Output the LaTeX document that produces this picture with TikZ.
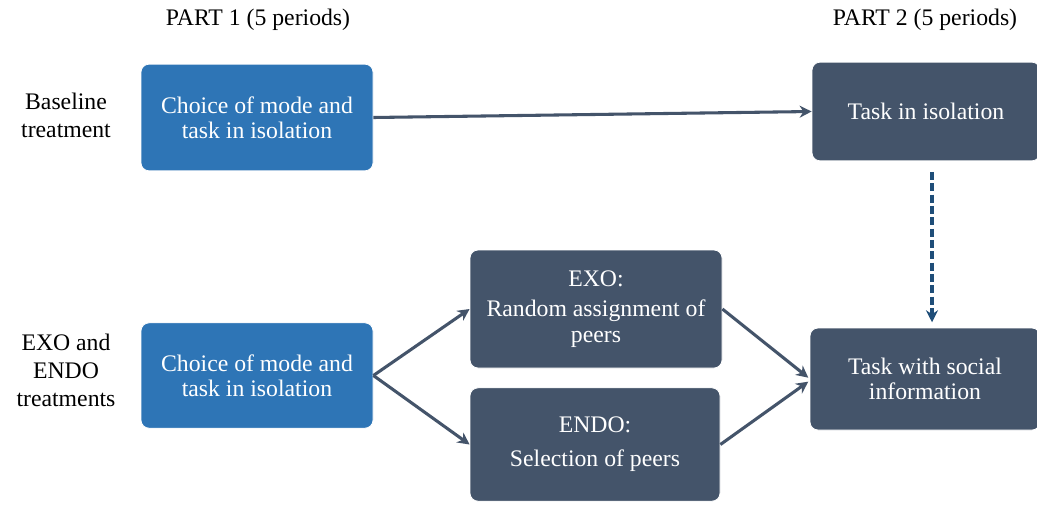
\documentclass[tikz,border=0pt]{standalone}
\usepackage{fontspec}
\setmainfont{Liberation Serif}
\usetikzlibrary{arrows.meta,positioning}
\definecolor{boxblue}{HTML}{2E75B6}
\definecolor{boxdark}{HTML}{44546A}
\definecolor{dashblue}{HTML}{1F4E79}
\tikzset{
  txt/.style={font=\fontsize{17.8}{18.5}\selectfont, align=center, inner sep=0pt},
  lbl/.style={font=\fontsize{17.8}{21}\selectfont, align=center, inner sep=0pt},
  bluebox/.style={txt, fill=boxblue, text=white, rounded corners=6pt, draw=white, line width=0.6pt},
  darkbox/.style={txt, fill=boxdark, text=white, rounded corners=6pt, draw=white, line width=0.6pt},
  conn/.style={draw=boxdark, line width=2.3pt, -{Stealth[length=9pt,width=9pt]}},
  dconn/.style={draw=dashblue, line width=2.3pt, dash pattern=on 6pt off 2.5pt, -{Stealth[length=9pt,width=9pt]}}
}
\begin{document}
\begin{tikzpicture}[x=0.75pt,y=-0.75pt]
\useasboundingbox (0,0) rectangle (1037,504);
\fill[white] (0,0) rectangle (1037,504);

\node[lbl] (p1) at (258,20) {PART 1 (5 periods)};
\node[lbl] (p2) at (925,20) {PART 2 (5 periods)};

\node[lbl] (lb) at (66,115) {Baseline\\treatment};
\node[lbl] (le) at (66,370) {EXO and\\ENDO\\treatments};

\node[bluebox, minimum width=174pt, minimum height=80pt] (c1) at (257,117.5) {Choice of mode and\\task in isolation};
\node[darkbox, minimum width=171pt, minimum height=74pt] (iso) at (926,111.5) {Task in isolation};

\node[bluebox, minimum width=174pt, minimum height=79pt] (c2) at (257,375.5) {Choice of mode and\\task in isolation};
\node[darkbox, minimum width=189pt, minimum height=88.5pt] (exo) at (596,309) {EXO:\\[4pt]Random assignment of\\[1pt]peers};
\node[darkbox, minimum width=187.5pt, minimum height=85pt] (endo) at (595,444.5) {ENDO:\\[7pt]Selection of peers};
\node[darkbox, minimum width=172.5pt, minimum height=76.5pt] (soc) at (925,379) {Task with social\\information};

\draw[conn] (c1.east) -- (iso.west);
\draw[conn] (c2.east) -- (exo.west);
\draw[conn] (c2.east) -- (endo.west);
\draw[conn] (exo.east) -- ([yshift=1pt,xshift=-1pt]soc.west);
\draw[conn] (endo.east) -- ([yshift=-2pt,xshift=-1pt]soc.west);
\draw[dconn, shorten <=8pt, shorten >=4pt] ([xshift=4.5pt]iso.south) -- ([xshift=4.5pt]iso.south |- soc.north);
\end{tikzpicture}
\end{document}
